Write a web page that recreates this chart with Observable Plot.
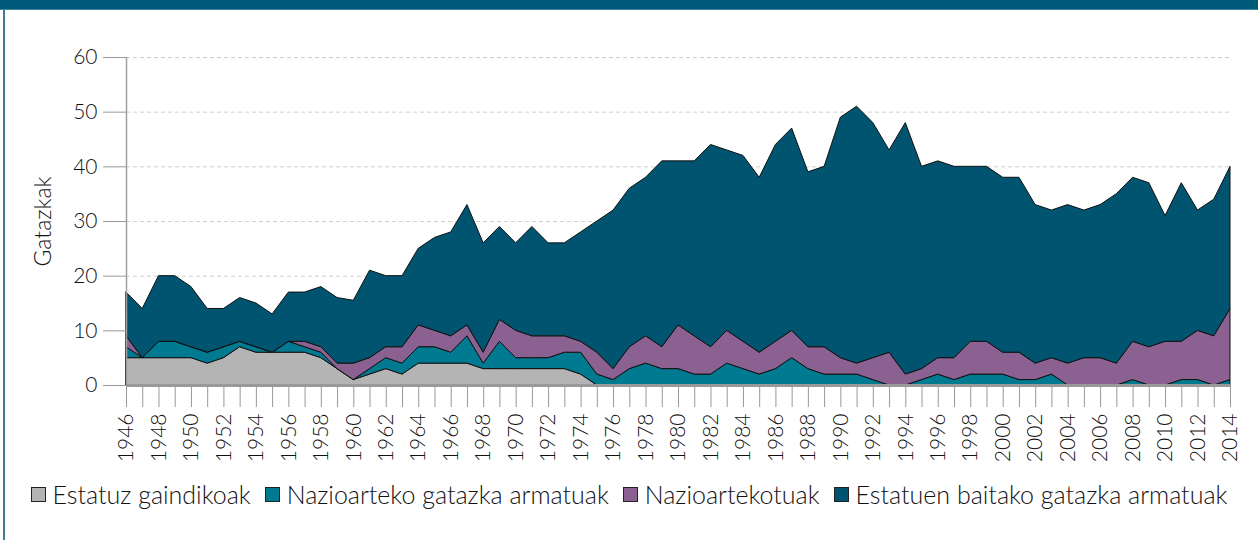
<!DOCTYPE html>
<html><head><meta charset="utf-8">
<script src="https://cdn.jsdelivr.net/npm/d3@7"></script>
<script src="https://cdn.jsdelivr.net/npm/@observablehq/plot@0.6"></script>
<style>
body{margin:0;background:#fff;font-family:Lato,"Noto Sans",sans-serif;}
#wrap{position:relative;width:1258px;height:540px;overflow:hidden;background:#fff;}
#bar{position:absolute;left:0;top:0;width:1258px;height:9px;background:#00587a;border-bottom:1px solid #3a8399;}
#lb{position:absolute;left:3px;top:10px;width:2px;height:530px;background:#3e7f90;}
#chart{position:absolute;left:0;top:0;}
#legend{position:absolute;left:0;top:479px;width:1258px;display:flex;justify-content:center;align-items:center;font-size:25px;color:#111;font-weight:300;}
.item{display:flex;align-items:center;margin:0 7px;}
.sw{width:13px;height:13px;border:1px solid #222;margin-right:7px;}
</style></head>
<body>
<div id="wrap"><div id="bar"></div><div id="lb"></div><div id="chart"></div><div id="legend"></div></div>
<script>
const years = [1946,1947,1948,1949,1950,1951,1952,1953,1954,1955,1956,1957,1958,1959,1960,1961,1962,1963,1964,1965,1966,1967,1968,1969,1970,1971,1972,1973,1974,1975,1976,1977,1978,1979,1980,1981,1982,1983,1984,1985,1986,1987,1988,1989,1990,1991,1992,1993,1994,1995,1996,1997,1998,1999,2000,2001,2002,2003,2004,2005,2006,2007,2008,2009,2010,2011,2012,2013,2014];
const labelYears = [1946,1948,1950,1952,1954,1956,1958,1960,1962,1964,1966,1968,1970,1972,1974,1976,1978,1980,1982,1984,1986,1988,1990,1992,1994,1996,1998,2000,2002,2004,2006,2008,2010,2012,2014];
const yTicks = [0,10,20,30,40,50,60];
const seriesNames = ["Estatuz gaindikoak","Nazioarteko gatazka armatuak","Nazioartekotuak","Estatuen baitako gatazka armatuak"];
const colors = ["#b4b4b4","#007a90","#8a6190","#00546f"];
const extrasystemic = [5,5,5,5,5,4,5,7,6,6,6,6,5,3,1,2,3,2,4,4,4,4,3,3,3,3,3,3,2,0,0,0,0,0,0,0,0,0,0,0,0,0,0,0,0,0,0,0,0,0,0,0,0,0,0,0,0,0,0,0,0,0,0,0,0,0,0,0,0];
const interstate = [2,0,3,3,2,2,2,1,1,0,2,1,1,0,0,1,2,2,3,3,2,5,1,5,2,2,2,3,4,2,1,3,4,3,3,2,2,4,3,2,3,5,3,2,2,2,1,0,0,1,2,1,2,2,2,1,1,2,0,0,0,0,1,0,0,1,1,0,1];
const internationalized = [2,0,0,0,0,0,0,0,0,0,0,1,1,1,3,2,2,3,4,3,3,2,2,4,5,4,4,3,2,4,2,4,5,4,8,7,5,6,5,4,5,5,4,5,3,2,4,6,2,2,3,4,6,6,4,5,3,3,4,5,5,4,7,7,8,7,9,9,13];
const intrastate = [8,9,12,12,11,8,7,8,8,7,9,9,11,12,11.5,16,13,13,14,17,19,22,20,17,16,20,17,17,20,24,29,29,29,34,30,32,37,33,34,32,36,37,32,33,44,47,43,37,46,37,36,35,32,32,32,32,29,27,29,27,28,31,30,30,23,29,22,25,26];

const seriesValues = [extrasystemic, interstate, internationalized, intrastate];
const rows = [];
years.forEach((yr, i) => {
  seriesNames.forEach((s, k) => rows.push({year: yr, series: s, value: seriesValues[k][i]}));
});

const chart = Plot.plot({
  width: 1258, height: 470,
  marginTop: 57, marginBottom: 85, marginLeft: 126, marginRight: 28,
  style: {fontFamily: "Lato, 'Noto Sans', sans-serif", fontSize: "21px", fontWeight: 300, color: "#111", background: "transparent", overflow: "visible"},
  x: {domain: [1946, 2014]},
  y: {domain: [0, 60]},
  color: {domain: seriesNames, range: colors},
  marks: [
    Plot.gridY(yTicks.filter(d => d > 0), {stroke: "#cfcfcf", strokeOpacity: 1, strokeDasharray: "4,3"}),
    Plot.areaY(rows, {x: "year", y: "value", z: "series", fill: "series", stroke: "#111", strokeWidth: 1}),
    Plot.ruleX([1946], {stroke: "#a0a0a0", strokeWidth: 1.5}),
    Plot.ruleY([0], {stroke: "#999", strokeWidth: 3}),
    Plot.axisY({ticks: yTicks, tickSize: 23, tickPadding: 6, stroke: "#999", label: null}),
    Plot.axisX({ticks: years, tickSize: 22, tickFormat: () => "", stroke: "#999", label: null}),
    Plot.axisX({ticks: labelYears, tickSize: 0, tickPadding: 28, tickRotate: -90, tickFormat: d => String(d), label: null}),
    Plot.text(["Gatazkak"], {frameAnchor: "left", dx: -83, rotate: -90, textAnchor: "middle", lineAnchor: "middle", fontSize: 23, fill: "#111"})
  ]
});
document.getElementById("chart").appendChild(chart);

const legend = document.getElementById("legend");
seriesNames.forEach((s, k) => {
  const it = document.createElement("div");
  it.className = "item";
  const sw = document.createElement("div");
  sw.className = "sw";
  sw.style.background = colors[k];
  const t = document.createElement("span");
  t.textContent = s;
  it.appendChild(sw); it.appendChild(t);
  legend.appendChild(it);
});
</script>
</body></html>
